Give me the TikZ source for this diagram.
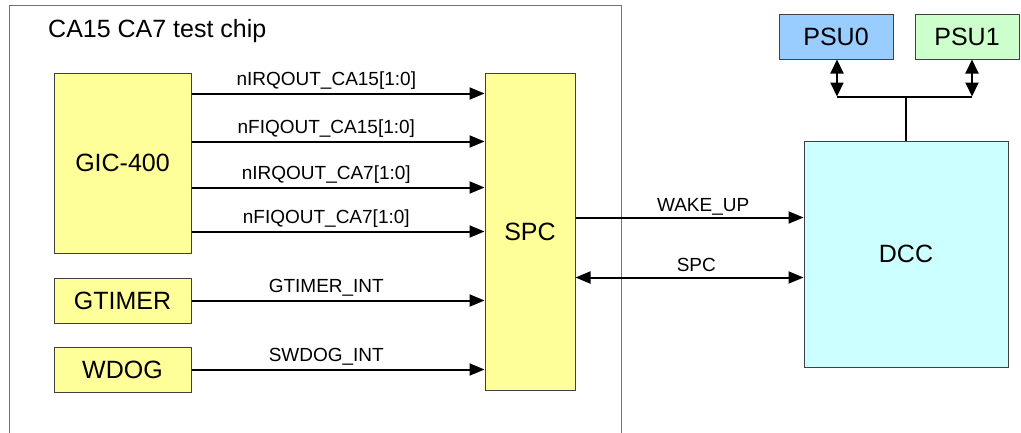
\documentclass[tikz,border=0pt]{standalone}
\usepackage{fontspec}
\setmainfont{Liberation Sans}
\usetikzlibrary{positioning,arrows,arrows.meta,calc}

\definecolor{yellow9}{HTML}{FFFF99}
\definecolor{cyan9}{HTML}{CCFFFF}
\definecolor{blue9}{HTML}{99CCFF}
\definecolor{green9}{HTML}{CCFFCC}

\tikzset{
  blk/.style={draw=black!75, line width=1pt, minimum height=45pt, inner sep=0pt,
    font=\fontsize{25}{30}\selectfont},
  sig/.style={font=\fontsize{19}{22}\selectfont, anchor=base, yshift=8pt, inner sep=0pt},
  wire/.style={line width=2pt},
}

\begin{document}
\begin{tikzpicture}[x=1pt, y=-1pt, >={Triangle[length=15pt,width=12pt]}]
  \useasboundingbox (0,0) rectangle (1021,432);

  % chip outline
  \draw[black!55, line width=1pt] (9,445) -- (9,5) -- (621,5) -- (621,445);
  \node[font=\fontsize{25}{30}\selectfont, anchor=base west, inner sep=0pt] (title) at (48,37) {CA15 CA7 test chip};

  \node[blk, fill=yellow9, minimum width=137pt, minimum height=180pt] (gic) at (122.5,163) {GIC-400};
  \node[blk, fill=yellow9, minimum width=137pt] (gtimer) [below=24pt of gic] {GTIMER};
  \node[blk, fill=yellow9, minimum width=137pt] (wdog) [below=23pt of gtimer] {WDOG};
  \node[blk, fill=yellow9, minimum width=90pt, minimum height=317pt] (spc) at (530,231.5) {SPC};

  \node[blk, fill=cyan9, minimum width=204pt, minimum height=226pt] (dcc) at (906,254) {DCC};
  \node[blk, fill=blue9, minimum width=114pt] (psu0) at (836,36.5) {PSU0};
  \node[blk, fill=green9, minimum width=104pt] (psu1) at (967,36.5) {PSU1};

  % interrupts into SPC
  \draw[wire,->] ($(gic.north east)+(0,21)$) -- ($(spc.north west)+(0,21)$) node[sig, pos=.46] {nIRQOUT\_CA15[1:0]};
  \draw[wire,->] ($(gic.north east)+(0,69)$) -- ($(spc.north west)+(0,69)$) node[sig, pos=.46] {nFIQOUT\_CA15[1:0]};
  \draw[wire,->] ($(gic.north east)+(0,115)$) -- ($(spc.north west)+(0,115)$) node[sig, pos=.46] {nIRQOUT\_CA7[1:0]};
  \draw[wire,->] ($(gic.north east)+(0,159)$) -- ($(spc.north west)+(0,159)$) node[sig, pos=.46] {nFIQOUT\_CA7[1:0]};
  \draw[wire,->] (gtimer.east) -- (gtimer.east -| spc.west) node[sig, pos=.46] {GTIMER\_INT};
  \draw[wire,->] (wdog.east) -- (wdog.east -| spc.west) node[sig, pos=.46] {SWDOG\_INT};

  % SPC to DCC
  \draw[wire,->] ($(spc.north east)+(0,145)$) -- ($(dcc.north west)+(0,77)$) node[sig, pos=.56, yshift=-2pt] {WAKE\_UP};
  \draw[wire,<->] ($(spc.north east)+(0,205)$) -- ($(dcc.north west)+(0,137)$) node[sig, pos=.53, yshift=-2pt] {SPC};

  % power supplies
  \coordinate (bus0) at ($(psu0.south)+(1,37)$);
  \coordinate (bus1) at ($(psu1.south)+(5,37)$);
  \coordinate (tap) at (bus0 -| dcc.north);
  \draw[wire,<->,>={Triangle[length=14pt,width=13pt]}] ($(psu0.south)+(1,0)$) -- (bus0);
  \draw[wire,<->,>={Triangle[length=14pt,width=13pt]}] ($(psu1.south)+(5,0)$) -- (bus1);
  \draw[wire] (bus0) -- (bus1);
  \draw[wire] (tap) -- (dcc.north);

\end{tikzpicture}
\end{document}
